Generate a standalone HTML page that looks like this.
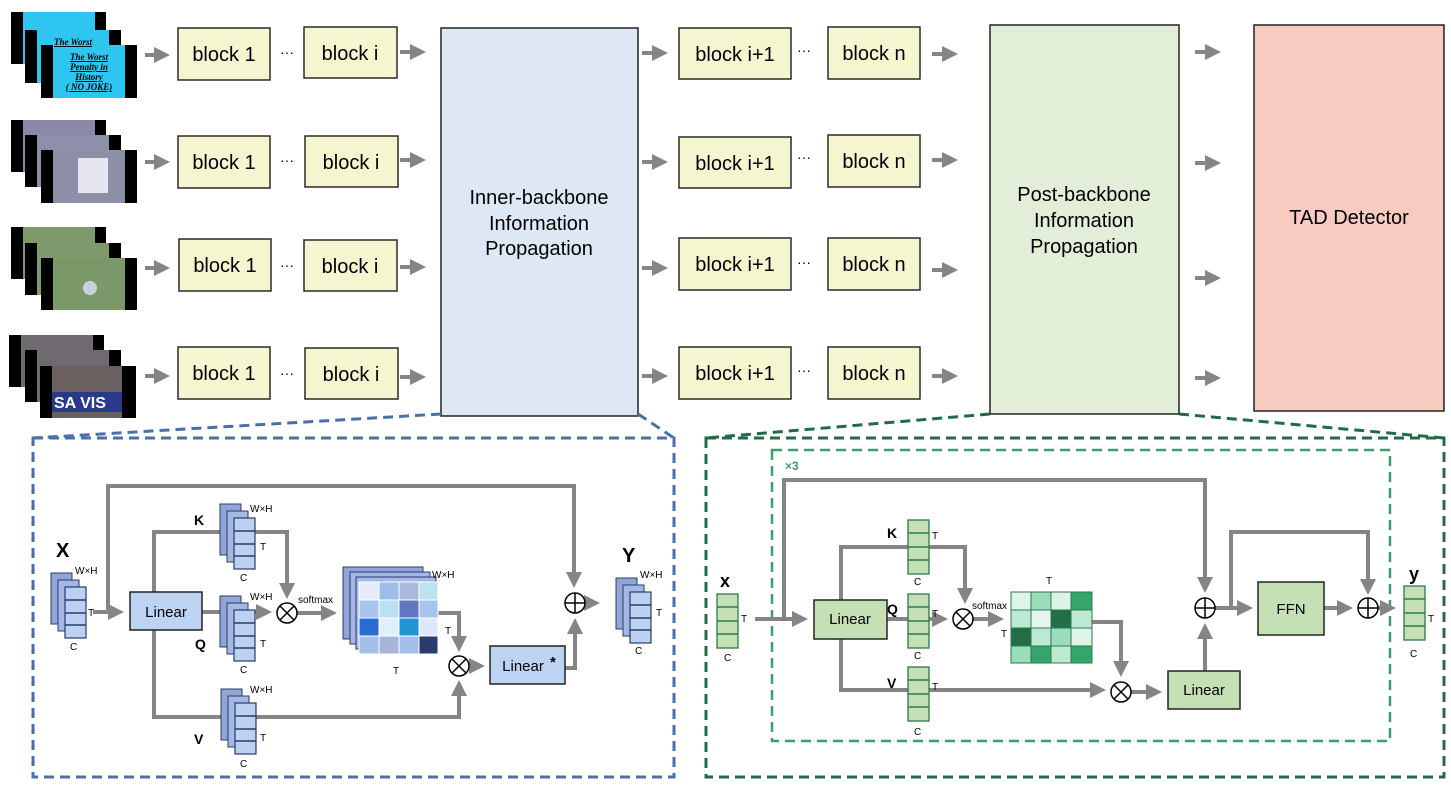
<!DOCTYPE html>
<html><head><meta charset="utf-8"><style>
html,body{margin:0;padding:0;background:#fff;}
svg{display:block;font-family:"Liberation Sans",Arial,sans-serif;}
</style></head><body>
<svg width="1451" height="791" viewBox="0 0 1451 791" xmlns="http://www.w3.org/2000/svg">
<defs>
<marker id="ah" markerWidth="4" markerHeight="4" refX="3" refY="2" orient="auto" markerUnits="strokeWidth"><path d="M0,0 L4,2 L0,4 z" fill="#858585"/></marker>
<g id="tb">
<rect x="-14" y="-14" width="21" height="51" fill="#8fa6d6" stroke="#2b3a6b" stroke-width="1"/>
<rect x="-7" y="-7" width="21" height="51" fill="#a3b8e4" stroke="#2b3a6b" stroke-width="1"/>
<rect x="0" y="0" width="21" height="51" fill="#bcd0f2" stroke="#2b3a6b" stroke-width="1.2"/>
<line x1="0" y1="13" x2="21" y2="13" stroke="#2b3a6b" stroke-width="1.5"/>
<line x1="0" y1="26" x2="21" y2="26" stroke="#2b3a6b" stroke-width="1.5"/>
<line x1="0" y1="38" x2="21" y2="38" stroke="#2b3a6b" stroke-width="1.5"/>
</g>
<g id="gv">
<rect x="0" y="0" width="21" height="54" fill="#c5e0b4" stroke="#2b7a4b" stroke-width="1.3"/>
<line x1="0" y1="13" x2="21" y2="13" stroke="#2b7a4b" stroke-width="1.5"/>
<line x1="0" y1="27" x2="21" y2="27" stroke="#2b7a4b" stroke-width="1.5"/>
<line x1="0" y1="40" x2="21" y2="40" stroke="#2b7a4b" stroke-width="1.5"/>
</g>
<g id="ot"><circle r="10" fill="#fff" stroke="#000" stroke-width="1.5"/><line x1="-7" y1="-7" x2="7" y2="7" stroke="#000" stroke-width="1.5"/><line x1="7" y1="-7" x2="-7" y2="7" stroke="#000" stroke-width="1.5"/></g>
<g id="op"><circle r="10" fill="#fff" stroke="#000" stroke-width="1.5"/><line x1="-10" y1="0" x2="10" y2="0" stroke="#000" stroke-width="1.5"/><line x1="0" y1="-10" x2="0" y2="10" stroke="#000" stroke-width="1.5"/></g>
</defs>

<!-- thumbnails -->
<g>
<rect x="11" y="12" width="95" height="52" fill="#000"/><rect x="23" y="12" width="72" height="52" fill="#2ec5f0"/>
<rect x="25" y="30" width="96" height="53" fill="#000"/><rect x="37" y="30" width="72" height="53" fill="#2ec5f0"/>
<rect x="41" y="45" width="96" height="53" fill="#000"/><rect x="53" y="45" width="72" height="53" fill="#2ec5f0"/>
<text x="73" y="45" font-size="9" font-style="italic" font-weight="bold" font-family="Liberation Serif,serif" text-anchor="middle" text-decoration="underline">The Worst</text>
<text x="89" y="60" font-size="9" font-style="italic" font-weight="bold" font-family="Liberation Serif,serif" text-anchor="middle" text-decoration="underline">The Worst</text>
<text x="89" y="70" font-size="9" font-style="italic" font-weight="bold" font-family="Liberation Serif,serif" text-anchor="middle" text-decoration="underline">Penalty in</text>
<text x="89" y="80" font-size="9" font-style="italic" font-weight="bold" font-family="Liberation Serif,serif" text-anchor="middle" text-decoration="underline">History</text>
<text x="89" y="90" font-size="9" font-style="italic" font-weight="bold" font-family="Liberation Serif,serif" text-anchor="middle" text-decoration="underline">( NO JOKE)</text>

<rect x="11" y="120" width="95" height="52" fill="#000"/><rect x="23" y="120" width="72" height="52" fill="#8a8aa8"/>
<rect x="25" y="135" width="96" height="52" fill="#000"/><rect x="37" y="135" width="72" height="52" fill="#8e90aa"/>
<rect x="41" y="150" width="96" height="53" fill="#000"/><rect x="53" y="150" width="72" height="53" fill="#8c90a6"/>
<rect x="78" y="158" width="30" height="35" fill="#e6e6ee"/>

<rect x="11" y="227" width="95" height="52" fill="#000"/><rect x="23" y="227" width="72" height="52" fill="#7e9a6c"/>
<rect x="25" y="243" width="96" height="52" fill="#000"/><rect x="37" y="243" width="72" height="52" fill="#7e9a6c"/>
<rect x="41" y="258" width="96" height="52" fill="#000"/><rect x="53" y="258" width="72" height="52" fill="#7b9868"/>
<circle cx="90" cy="288" r="7" fill="#c8d0e0"/>

<rect x="9" y="335" width="95" height="52" fill="#000"/><rect x="21" y="335" width="72" height="52" fill="#6e6a70"/>
<rect x="25" y="350" width="96" height="52" fill="#000"/><rect x="37" y="350" width="72" height="52" fill="#6e6a70"/>
<rect x="40" y="366" width="96" height="52" fill="#000"/><rect x="52" y="366" width="70" height="52" fill="#6a6060"/>
<rect x="52" y="392" width="70" height="20" fill="#2a3a8a"/>
<text x="54" y="408" font-size="16" font-weight="bold" fill="#fff">SA VIS</text>
</g>

<!-- top rows -->
<g stroke="#858585" stroke-width="4" fill="none" marker-end="url(#ah)">
<line x1="145" y1="55" x2="166" y2="55"/><line x1="145" y1="162" x2="166" y2="162"/><line x1="145" y1="268" x2="166" y2="268"/><line x1="145" y1="376" x2="166" y2="376"/>
<line x1="400" y1="52" x2="422" y2="52"/><line x1="400" y1="160" x2="422" y2="160"/><line x1="400" y1="267" x2="422" y2="267"/><line x1="400" y1="377" x2="422" y2="377"/>
<line x1="642" y1="53" x2="664" y2="53"/><line x1="642" y1="162" x2="664" y2="162"/><line x1="642" y1="268" x2="664" y2="268"/><line x1="642" y1="376" x2="664" y2="376"/>
<line x1="932" y1="54" x2="954" y2="54"/><line x1="932" y1="160" x2="954" y2="160"/><line x1="932" y1="270" x2="954" y2="270"/><line x1="932" y1="376" x2="954" y2="376"/>
<line x1="1195" y1="52" x2="1217" y2="52"/><line x1="1195" y1="163" x2="1217" y2="163"/><line x1="1195" y1="278" x2="1217" y2="278"/><line x1="1195" y1="378" x2="1217" y2="378"/>
</g>
<g fill="#f5f5d0" stroke="#2a2a2a" stroke-width="1.5">
<rect x="178" y="28" width="92" height="52"/><rect x="178" y="136" width="92" height="52"/><rect x="179" y="239" width="92" height="52"/><rect x="178" y="347" width="92" height="52"/>
<rect x="304" y="27" width="93" height="51"/><rect x="305" y="136" width="93" height="51"/><rect x="304" y="240" width="93" height="51"/><rect x="305" y="348" width="93" height="51"/>
<rect x="679" y="28" width="112" height="51"/><rect x="679" y="137" width="112" height="51"/><rect x="679" y="238" width="112" height="52"/><rect x="679" y="347" width="112" height="52"/>
<rect x="828" y="27" width="92" height="52"/><rect x="828" y="135" width="92" height="52"/><rect x="828" y="238" width="92" height="52"/><rect x="828" y="347" width="92" height="52"/>
</g>
<g font-size="20" text-anchor="middle" fill="#000">
<text x="224" y="61">block 1</text><text x="224" y="169">block 1</text><text x="225" y="272">block 1</text><text x="224" y="380">block 1</text>
<text x="350" y="60">block i</text><text x="351" y="169">block i</text><text x="350" y="273">block i</text><text x="351" y="381">block i</text>
<text x="735" y="61">block i+1</text><text x="735" y="170">block i+1</text><text x="735" y="271">block i+1</text><text x="735" y="380">block i+1</text>
<text x="874" y="60">block n</text><text x="874" y="168">block n</text><text x="874" y="271">block n</text><text x="874" y="380">block n</text>
</g>
<g font-size="14" text-anchor="middle">
<text x="287" y="57">···</text><text x="287" y="165">···</text><text x="287" y="270">···</text><text x="287" y="378">···</text>
<text x="804" y="55">···</text><text x="804" y="162">···</text><text x="804" y="267">···</text><text x="804" y="375">···</text>
</g>
<rect x="441" y="28" width="197" height="388" fill="#dde8f4" stroke="#222" stroke-width="1.5"/>
<g font-size="20" text-anchor="middle"><text x="539" y="204">Inner-backbone</text><text x="539" y="230">Information</text><text x="539" y="255">Propagation</text></g>
<rect x="990" y="25" width="189" height="389" fill="#e2eed8" stroke="#222" stroke-width="1.5"/>
<g font-size="20" text-anchor="middle"><text x="1084" y="201">Post-backbone</text><text x="1084" y="227">Information</text><text x="1084" y="253">Propagation</text></g>
<rect x="1254" y="25" width="190" height="386" fill="#f8cbc0" stroke="#222" stroke-width="1.5"/>
<text x="1349" y="224" font-size="20" text-anchor="middle">TAD Detector</text>

<!-- dashed frames -->
<g fill="none" stroke-width="3" stroke-dasharray="10,6">
<g stroke="#4a70ac"><rect x="33" y="438" width="641" height="339"/><line x1="441" y1="414" x2="33" y2="438"/><line x1="638" y1="414" x2="674" y2="438"/></g>
<g stroke="#236b45"><rect x="706" y="438" width="738" height="339"/><line x1="990" y1="414" x2="706" y2="438"/><line x1="1179" y1="414" x2="1444" y2="438"/></g>
<rect x="772" y="450" width="618" height="291" stroke="#3aa06b" stroke-width="2.5"/>
</g>

<!-- left panel -->
<g stroke="#858585" stroke-width="4" fill="none">
<polyline points="108,612 108,486 574,486 574,584" marker-end="url(#ah)"/>
<line x1="93" y1="612" x2="120" y2="612" marker-end="url(#ah)"/>
<polyline points="154,592 154,532 287,532 287,595" marker-end="url(#ah)"/>
<line x1="202" y1="612" x2="230" y2="612"/>
<line x1="255" y1="612" x2="268" y2="612" marker-end="url(#ah)"/>
<line x1="297" y1="613" x2="333" y2="613" marker-end="url(#ah)"/>
<polyline points="438,613 459,613 459,648" marker-end="url(#ah)"/>
<polyline points="154,630 154,717 459,717 459,684" marker-end="url(#ah)"/>
<line x1="469" y1="666" x2="481" y2="666" marker-end="url(#ah)"/>
<polyline points="565,668 575,668 575,622" marker-end="url(#ah)"/>
<line x1="585" y1="603" x2="596" y2="603" marker-end="url(#ah)"/>
</g>
<use href="#tb" x="65" y="587"/>
<use href="#tb" x="234" y="518"/>
<use href="#tb" x="234" y="610"/>
<use href="#tb" x="235" y="703"/>
<use href="#tb" x="630" y="592"/>
<rect x="130" y="592" width="72" height="38" fill="#bcd4f2" stroke="#222" stroke-width="1.5"/>
<text x="166" y="617" font-size="15" text-anchor="middle">Linear</text>
<rect x="490" y="646" width="75" height="38" fill="#bcd4f2" stroke="#222" stroke-width="1.5"/>
<text x="523" y="671" font-size="15" text-anchor="middle">Linear</text><text x="550" y="667" font-size="15" font-weight="bold">*</text>
<use href="#ot" x="287" y="613"/><use href="#ot" x="459" y="666"/><use href="#op" x="575" y="603"/>
<!-- cube -->
<rect x="343" y="567" width="80" height="72" fill="#8fa6d6" stroke="#2b3a6b"/>
<rect x="350" y="572" width="80" height="72" fill="#a3b8e4" stroke="#2b3a6b"/>
<rect x="356" y="577" width="80" height="72" fill="#a3b8e4" stroke="#2b3a6b"/>
<g stroke="#fff" stroke-width="1">
<rect x="359" y="582" width="20" height="18" fill="#e3ecf8"/><rect x="379" y="582" width="20" height="18" fill="#9dbde9"/><rect x="399" y="582" width="20" height="18" fill="#aab8dc"/><rect x="419" y="582" width="19" height="18" fill="#bfe1f2"/>
<rect x="359" y="600" width="20" height="18" fill="#a6c4ec"/><rect x="379" y="600" width="20" height="18" fill="#b9e1f1"/><rect x="399" y="600" width="20" height="18" fill="#5e77c0"/><rect x="419" y="600" width="19" height="18" fill="#a6c4ec"/>
<rect x="359" y="618" width="20" height="18" fill="#2a6bd0"/><rect x="379" y="618" width="20" height="18" fill="#e0f0f8"/><rect x="399" y="618" width="20" height="18" fill="#2195d1"/><rect x="419" y="618" width="19" height="18" fill="#dde9f8"/>
<rect x="359" y="636" width="20" height="18" fill="#a3c0ea"/><rect x="379" y="636" width="20" height="18" fill="#aab3da"/><rect x="399" y="636" width="20" height="18" fill="#a3c0ea"/><rect x="419" y="636" width="19" height="18" fill="#2b3a72"/>
</g>
<g font-size="10">
<text x="75" y="574">W×H</text><text x="88" y="616">T</text><text x="70" y="650">C</text>
<text x="250" y="512">W×H</text><text x="260" y="550">T</text><text x="240" y="581">C</text>
<text x="250" y="600">W×H</text><text x="260" y="647">T</text><text x="240" y="673">C</text>
<text x="250" y="693">W×H</text><text x="260" y="741">T</text><text x="240" y="767">C</text>
<text x="432" y="578">W×H</text><text x="393" y="674">T</text><text x="445" y="634">T</text>
<text x="640" y="578">W×H</text><text x="656" y="616">T</text><text x="635" y="654">C</text>
<text x="298" y="603">softmax</text>
</g>
<g font-size="14" font-weight="bold"><text x="194" y="525">K</text><text x="195" y="649">Q</text><text x="194" y="744">V</text></g>
<g font-size="20" font-weight="bold"><text x="56" y="557">X</text><text x="622" y="562">Y</text></g>

<!-- right panel -->
<text x="785" y="470" font-size="12" font-weight="bold" fill="#3aa06b">×3</text>
<g stroke="#858585" stroke-width="4" fill="none">
<line x1="755" y1="619" x2="804" y2="619" marker-end="url(#ah)"/>
<polyline points="784,619 784,480 1205,480 1205,589" marker-end="url(#ah)"/>
<polyline points="841,600 841,547 965,547 965,600" marker-end="url(#ah)"/>
<line x1="887" y1="619" x2="908" y2="619"/>
<line x1="928" y1="619" x2="944" y2="619" marker-end="url(#ah)"/>
<line x1="973" y1="619" x2="1000" y2="619" marker-end="url(#ah)"/>
<polyline points="1092,622 1121,622 1121,673" marker-end="url(#ah)"/>
<polyline points="841,639 841,690 1102,690" marker-end="url(#ah)"/>
<line x1="1131" y1="692" x2="1158" y2="692" marker-end="url(#ah)"/>
<line x1="1205" y1="671" x2="1205" y2="627" marker-end="url(#ah)"/>
<line x1="1215" y1="608" x2="1249" y2="608" marker-end="url(#ah)"/>
<polyline points="1231,608 1231,532 1368,532 1368,591" marker-end="url(#ah)"/>
<line x1="1324" y1="608" x2="1349" y2="608" marker-end="url(#ah)"/>
<line x1="1378" y1="608" x2="1392" y2="608" marker-end="url(#ah)"/>
</g>
<use href="#gv" x="717" y="594"/>
<use href="#gv" x="908" y="520"/>
<use href="#gv" x="908" y="594"/>
<use href="#gv" x="908" y="667"/>
<use href="#gv" x="1404" y="586"/>
<rect x="814" y="600" width="73" height="39" fill="#c5e0b4" stroke="#222" stroke-width="1.5"/>
<text x="850" y="624" font-size="15" text-anchor="middle">Linear</text>
<rect x="1168" y="671" width="72" height="38" fill="#c5e0b4" stroke="#222" stroke-width="1.5"/>
<text x="1204" y="695" font-size="15" text-anchor="middle">Linear</text>
<rect x="1258" y="582" width="66" height="53" fill="#c5e0b4" stroke="#222" stroke-width="1.5"/>
<text x="1291" y="614" font-size="15" text-anchor="middle">FFN</text>
<use href="#ot" x="963" y="619"/><use href="#ot" x="1121" y="692"/><use href="#op" x="1205" y="608"/><use href="#op" x="1368" y="608"/>
<g stroke="#2b7a4b" stroke-width="1">
<rect x="1011" y="592" width="20" height="18" fill="#e0f3ea"/><rect x="1031" y="592" width="20" height="18" fill="#9bdcbd"/><rect x="1051" y="592" width="20" height="18" fill="#dff2e9"/><rect x="1071" y="592" width="21" height="18" fill="#36a56c"/>
<rect x="1011" y="610" width="20" height="18" fill="#bde9d4"/><rect x="1031" y="610" width="20" height="18" fill="#e3f5ec"/><rect x="1051" y="610" width="20" height="18" fill="#216e47"/><rect x="1071" y="610" width="21" height="18" fill="#bde9d4"/>
<rect x="1011" y="628" width="20" height="18" fill="#216e47"/><rect x="1031" y="628" width="20" height="18" fill="#bde9d4"/><rect x="1051" y="628" width="20" height="18" fill="#9bdcbd"/><rect x="1071" y="628" width="21" height="18" fill="#e0f3ea"/>
<rect x="1011" y="646" width="20" height="17" fill="#9bdcbd"/><rect x="1031" y="646" width="20" height="17" fill="#36a56c"/><rect x="1051" y="646" width="20" height="17" fill="#bde9d4"/><rect x="1071" y="646" width="21" height="17" fill="#36a56c"/>
</g>
<g font-size="10">
<text x="741" y="622">T</text><text x="724" y="661">C</text>
<text x="932" y="539">T</text><text x="914" y="585">C</text>
<text x="932" y="617">T</text><text x="914" y="659">C</text>
<text x="932" y="690">T</text><text x="914" y="735">C</text>
<text x="1046" y="584">T</text><text x="1001" y="637">T</text>
<text x="1428" y="622">T</text><text x="1410" y="657">C</text>
<text x="972" y="609">softmax</text>
</g>
<g font-size="14" font-weight="bold"><text x="887" y="538">K</text><text x="887" y="614">Q</text><text x="887" y="688">V</text></g>
<g font-size="18" font-weight="bold"><text x="720" y="587">x</text><text x="1409" y="580">y</text></g>
</svg>
</body></html>
